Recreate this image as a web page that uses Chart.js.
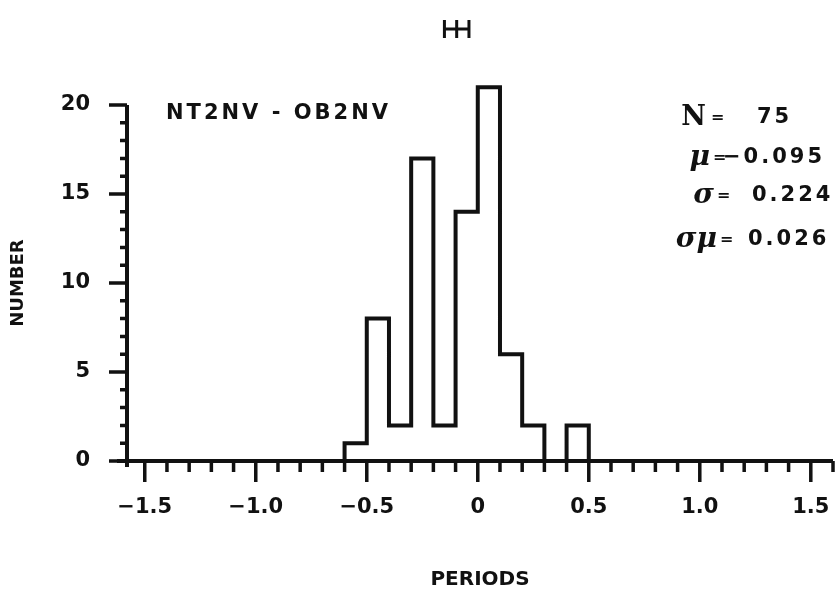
<!DOCTYPE html>
<html>
<head>
<meta charset="utf-8">
<script src="https://cdn.jsdelivr.net/npm/chart.js@4"></script>
<style>
html,body{margin:0;padding:0;background:#fff;}
canvas{display:block;}
</style>
</head>
<body>
<canvas id="c" width="838" height="597"></canvas>
<script>
// ---- data ----
const binEdges = [-0.6, -0.5, -0.4, -0.3, -0.2, -0.1, 0.0, 0.1, 0.2, 0.3, 0.4, 0.5];
const counts   = [1, 8, 2, 17, 2, 14, 21, 6, 2, 0, 2];
const xMajorValues = [-1.5, -1.0, -0.5, 0, 0.5, 1.0, 1.5];
const xMajorLabels = ['\u22121.5', '\u22121.0', '\u22120.5', '0', '0.5', '1.0', '1.5'];
const yMajorValues = [0, 5, 10, 15, 20];
const yMajorLabels = ['0', '5', '10', '15', '20'];
const seriesTitle = 'NT2NV - OB2NV';
const statSymbols = ['N', '\u03BC', '\u03C3', '\u03C3\u03BC'];
const statValues  = ['75', '\u22120.095', '0.224', '0.026'];
const statMean = -0.095;
const errHalfWidth = 0.062;

// build the histogram outline from edges + counts
const outline = [{x: binEdges[0], y: 0}];
counts.forEach((c, i) => {
  outline.push({x: binEdges[i], y: c});
  outline.push({x: binEdges[i + 1], y: c});
});
outline.push({x: binEdges[binEdges.length - 1], y: 0});

const INK = '#111';
const FONT = "'DejaVu Sans', sans-serif";

function majorIndex(list, v) {
  for (let i = 0; i < list.length; i++) if (Math.abs(list[i] - v) < 1e-6) return i;
  return -1;
}

const decor = {
  id: 'decor',
  afterDraw(chart) {
    const ctx = chart.ctx;
    const xs = chart.scales.x, ys = chart.scales.y;
    const ca = chart.chartArea;
    const y0 = ys.getPixelForValue(0);
    const xl = ca.left;
    ctx.save();
    ctx.strokeStyle = INK;
    ctx.fillStyle = INK;
    ctx.lineCap = 'butt';
    // axes
    ctx.lineWidth = 4;
    ctx.beginPath();
    ctx.moveTo(xl - 10, y0); ctx.lineTo(ca.right, y0);
    ctx.moveTo(xl, y0 + 6); ctx.lineTo(xl, ys.getPixelForValue(20));
    ctx.stroke();
    // x ticks
    ctx.lineWidth = 3.5;
    ctx.beginPath();
    xs.ticks.forEach(t => {
      const v = t.value;
      if (Math.abs(v * 10 - Math.round(v * 10)) > 1e-6) return;
      const px = xs.getPixelForValue(v);
      if (px < xl + 3) return;
      const len = majorIndex(xMajorValues, v) >= 0 ? 21 : 11;
      ctx.moveTo(px, y0); ctx.lineTo(px, y0 + len);
    });
    // y ticks
    ys.ticks.forEach(t => {
      const v = t.value;
      const py = ys.getPixelForValue(v);
      const len = majorIndex(yMajorValues, v) >= 0 ? 18 : 7;
      ctx.moveTo(xl, py); ctx.lineTo(xl - len, py);
    });
    ctx.stroke();

    // error-bar symbol above plot (mean +/- width)
    const ex0 = xs.getPixelForValue(statMean - errHalfWidth);
    const ex1 = xs.getPixelForValue(statMean + errHalfWidth);
    const exm = xs.getPixelForValue(statMean);
    const ey = ca.top - 76;
    ctx.lineWidth = 3;
    ctx.beginPath();
    ctx.moveTo(ex0, ey); ctx.lineTo(ex1, ey);
    [ex0 + 1.5, exm, ex1 - 1.5].forEach(x => { ctx.moveTo(x, ey - 9); ctx.lineTo(x, ey + 9); });
    ctx.stroke();

    // series label
    ctx.letterSpacing = '3px';
    ctx.font = 'bold 21px ' + FONT;
    ctx.textAlign = 'left';
    ctx.textBaseline = 'middle';
    ctx.fillText(seriesTitle, 166, 114);

    // statistics block
    const rowsY = [118, 158, 196, 240];
    const valX = [757, 723, 752, 748];
    const eqX = [711, 713, 717, 720];
    for (let i = 0; i < statSymbols.length; i++) {
      const y = rowsY[i];
      ctx.letterSpacing = '0px';
      ctx.textAlign = 'right';
      if (i === 0) {
        ctx.font = 'bold 27px "DejaVu Serif", serif';
        ctx.fillText(statSymbols[i], eqX[i] - 5, y);
      } else {
        ctx.font = 'italic bold 28px "DejaVu Serif", serif';
        ctx.fillText(statSymbols[i], eqX[i] - 3, y);
      }
      ctx.textAlign = 'left';
      ctx.font = 'bold 16px ' + FONT;
      ctx.fillText('=', eqX[i], y);
      ctx.letterSpacing = '3px';
      ctx.font = 'bold 21px ' + FONT;
      ctx.fillText(statValues[i], valX[i], y);
    }
    ctx.restore();
  }
};

new Chart(document.getElementById('c'), {
  type: 'line',
  data: {
    datasets: [{
      data: outline,
      borderColor: INK,
      borderWidth: 4,
      pointRadius: 0,
      fill: false,
      tension: 0,
      clip: false,
      borderJoinStyle: 'miter',
      borderCapStyle: 'square'
    }]
  },
  options: {
    responsive: false,
    animation: false,
    devicePixelRatio: 1,
    layout: { padding: { top: 105, right: 5, left: 0, bottom: 0 } },
    plugins: { legend: { display: false }, tooltip: { enabled: false } },
    scales: {
      x: {
        type: 'linear',
        min: -1.58,
        max: 1.6,
        grid: { display: false },
        border: { display: false },
        ticks: {
          stepSize: 0.1,
          includeBounds: false,
          autoSkip: false,
          maxRotation: 0,
          padding: 26,
          color: INK,
          font: { family: FONT, size: 21, weight: 'bold' },
          callback: v => { const i = majorIndex(xMajorValues, v); return i >= 0 ? xMajorLabels[i] : ''; }
        },
        title: {
          display: true,
          text: 'PERIODS',
          color: INK,
          font: { family: FONT, size: 20, weight: 'bold' },
          padding: { top: 0, bottom: 5 }
        },
        afterFit: s => { s.height = 136; s.paddingLeft = 0; s.paddingRight = 0; }
      },
      y: {
        type: 'linear',
        min: 0,
        max: 20,
        grid: { display: false },
        border: { display: false },
        ticks: {
          stepSize: 1,
          autoSkip: false,
          padding: 29,
          color: INK,
          font: { family: FONT, size: 21, weight: 'bold' },
          callback: v => { const i = majorIndex(yMajorValues, v); return i >= 0 ? yMajorLabels[i] : ''; }
        },
        title: {
          display: true,
          text: 'NUMBER',
          color: INK,
          font: { family: FONT, size: 18, weight: 'bold' },
          padding: { top: 8, bottom: 0 }
        },
        afterFit: s => { s.width = 127; s.paddingTop = 0; s.paddingBottom = 0; }
      }
    }
  },
  plugins: [decor]
});
</script>
</body>
</html>
